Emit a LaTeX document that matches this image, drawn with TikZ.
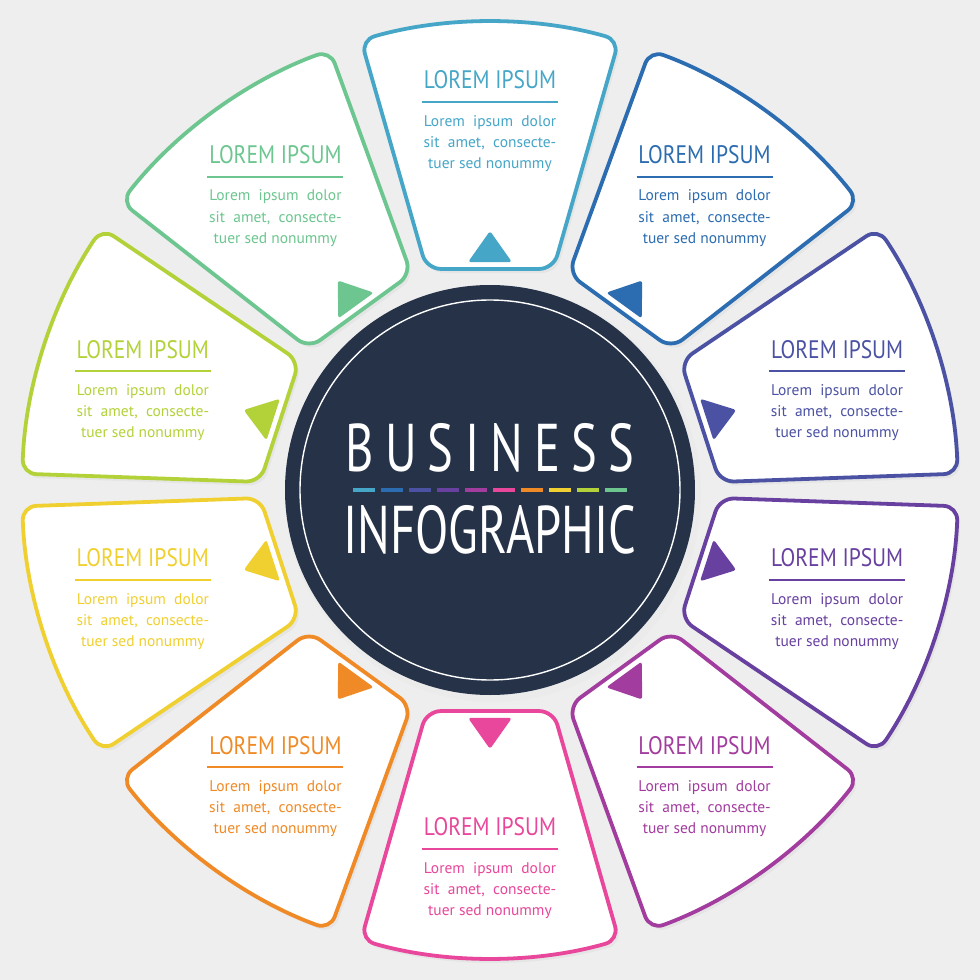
\documentclass[tikz,border=0pt]{standalone}
\usepackage{fontspec}
\setmainfont{PT Sans}
\newfontfamily\condf[FakeStretch=0.85]{PT Sans}
\newfontfamily\bigf[FakeStretch=0.72]{PT Sans}
\usetikzlibrary{calc}
\definecolor{bgc}{HTML}{EEEEEE}
\definecolor{navy}{HTML}{253248}
\definecolor{cA}{HTML}{45A6C8}
\definecolor{cB}{HTML}{2C6CB0}
\definecolor{cC}{HTML}{4B52A3}
\definecolor{cD}{HTML}{6840A0}
\definecolor{cE}{HTML}{A23C9E}
\definecolor{cF}{HTML}{E8479B}
\definecolor{cG}{HTML}{F08A26}
\definecolor{cH}{HTML}{F0D030}
\definecolor{cI}{HTML}{B3D23A}
\definecolor{cJ}{HTML}{6DC690}
\tikzset{
 seg/.style={line width=2.7pt, fill=white, rounded corners=10pt},
 ttl/.style={font=\condf\fontsize{18}{18}\selectfont, inner sep=0pt},
 bdy/.style={font=\fontsize{11}{15}\selectfont, align=center, inner sep=0pt},
}
\begin{document}
\begin{tikzpicture}[x=0.025cm,y=0.025cm]
\fill[bgc] (-490,-490) rectangle (490,490);
\useasboundingbox (-490,-490) rectangle (490,490);
\foreach \i/\a/\c/\dy in {1/90/cA/0,2/54/cB/5,3/18/cC/17,4/-18/cD/0,5/-54/cE/5,6/-90/cF/17,7/-126/cG/5,8/-162/cH/0,9/162/cI/17,10/126/cJ/5}{
  \fill[black!10, rounded corners=10pt, shift={(3,-4)}] (\a-16:230) -- (\a-16:468) arc[start angle=\a-16, end angle=\a+16, radius=468] -- (\a+16:230) -- cycle;
  \draw[seg, draw=\c] (\a-16:230) -- (\a-16:468) arc[start angle=\a-16, end angle=\a+16, radius=468] -- (\a+16:230) -- cycle;
  \fill[\c, rounded corners=2pt] (\a-5.5:229) -- (\a:259) -- (\a+5.5:229) -- cycle;
  \coordinate (p\i) at (\a:365);
  \node[ttl, text=\c] (t\i) at ($(p\i)+(0,45-\dy)$) {LOREM IPSUM};
  \draw[\c, line width=1.5pt] ($(t\i)+(-68,-22)$) -- ($(t\i)+(68,-22)$);
  \node[bdy, text=\c, anchor=north] (b\i) at ($(t\i)+(0,-35)$) {Lorem\ \ ipsum\ \ dolor\\sit\ \ amet,\ \ consecte-\\tuer sed nonummy};
}
\fill[black!8] (3,-4) circle (208);
\fill[navy] (0,0) circle (205) node (c) {};
\draw[white, line width=1pt] (0,0) circle (190);
\node[font=\bigf\fontsize{48}{48}\selectfont, text=white, inner sep=0pt] (bus) at (0,42) {B\,U\,S\,I\,N\,E\,S\,S};
\node[font=\bigf\fontsize{48}{48}\selectfont, text=white, inner sep=0pt] (inf) at (0,-40) {INFOGRAPHIC};
\foreach \k/\c in {0/cA,1/cB,2/cC,3/cD,4/cE,5/cF,6/cG,7/cH,8/cI,9/cJ}{
  \draw[\c, line width=2.5pt] (-140+\k*28+3,0) -- (-140+\k*28+25,0);
}
\end{tikzpicture}
\end{document}
